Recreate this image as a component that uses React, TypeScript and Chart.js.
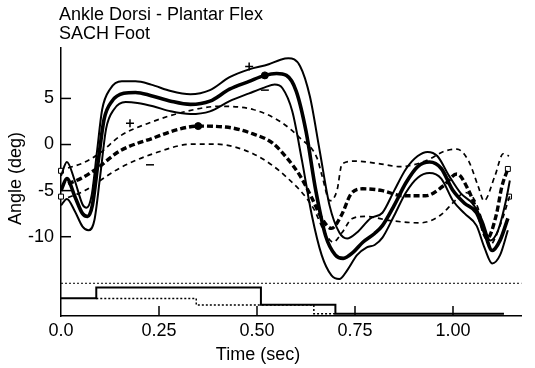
import React, { useEffect, useRef } from "react";
import { Chart, registerables } from "chart.js";

Chart.register(...registerables);

const TITLE = ["Ankle Dorsi - Plantar Flex", "SACH Foot"];
const X_LABEL = "Time (sec)";
const Y_LABEL = "Angle (deg)";
const X_TICKS = [0, 0.25, 0.5, 0.75, 1.0];
const Y_TICKS = [5, 0, -5, -10];

// Solid (reference) curves: [time, angle]
const solidMean: [number, number][] = [
  [0.0, -5.0], [0.015, -3.7], [0.035, -5.6], [0.055, -7.5], [0.068, -7.8], [0.08, -6.6],
  [0.095, -1.8], [0.11, 2.75], [0.13, 4.7], [0.16, 5.55], [0.19, 5.65], [0.23, 5.3],
  [0.28, 4.7], [0.33, 4.35], [0.38, 4.7], [0.43, 6.0], [0.48, 6.85], [0.52, 7.5],
  [0.55, 7.7], [0.575, 7.5], [0.6, 5.8], [0.625, 1.45], [0.65, -5.0], [0.675, -9.9],
  [0.7, -12.0], [0.72, -12.35], [0.745, -11.7], [0.77, -10.6], [0.8, -9.65], [0.82, -8.8],
  [0.85, -6.6], [0.88, -4.15], [0.91, -2.4], [0.94, -1.9], [0.97, -2.6], [1.0, -5.0],
  [1.03, -6.4], [1.06, -7.4], [1.08, -9.5], [1.1, -11.5], [1.12, -10.4], [1.14, -8.0],
];
const solidUpper: [number, number][] = [
  [0.0, -3.4], [0.015, -1.9], [0.035, -3.9], [0.055, -6.5], [0.065, -6.85], [0.078, -5.55],
  [0.092, -0.7], [0.105, 3.8], [0.125, 6.0], [0.155, 6.85], [0.19, 6.85], [0.23, 6.5],
  [0.28, 5.8], [0.33, 5.45], [0.38, 5.9], [0.43, 7.3], [0.48, 8.15], [0.53, 8.7],
  [0.56, 9.2], [0.58, 9.35], [0.61, 8.5], [0.635, 5.2], [0.66, -0.7], [0.685, -6.6],
  [0.71, -9.55], [0.73, -10.2], [0.755, -9.55], [0.79, -8.0], [0.82, -7.4], [0.85, -5.0],
  [0.88, -2.65], [0.91, -1.25], [0.935, -0.8], [0.96, -1.25], [0.99, -3.4], [1.02, -5.3],
  [1.05, -6.4], [1.075, -8.25], [1.095, -10.4], [1.115, -9.3], [1.135, -6.1], [1.145, -3.9],
];
const solidLower: [number, number][] = [
  [0.0, -6.6], [0.015, -5.9], [0.035, -7.2], [0.055, -8.9], [0.07, -9.3], [0.085, -8.25],
  [0.1, -3.4], [0.115, 1.7], [0.135, 3.8], [0.165, 4.6], [0.195, 4.5], [0.235, 4.15],
  [0.28, 3.6], [0.33, 3.3], [0.38, 3.6], [0.43, 4.7], [0.48, 5.55], [0.52, 6.2],
  [0.545, 6.5], [0.565, 6.1], [0.59, 3.6], [0.615, -1.8], [0.64, -7.7], [0.665, -12.0],
  [0.69, -14.2], [0.71, -14.6], [0.73, -13.65], [0.755, -12.0], [0.78, -11.15], [0.8, -10.9],
  [0.82, -10.1], [0.85, -7.7], [0.88, -5.2], [0.91, -3.6], [0.94, -3.1], [0.97, -3.7],
  [1.0, -6.1], [1.03, -7.5], [1.06, -8.8], [1.08, -11.15], [1.1, -12.9], [1.12, -12.0], [1.14, -9.3],
];

// Dashed (SACH foot) curves
const dashMean: [number, number][] = [
  [0.018, -4.25], [0.05, -3.7], [0.09, -2.65], [0.15, -0.7], [0.235, 0.7], [0.3, 1.65],
  [0.35, 2.0], [0.42, 1.9], [0.49, 1.15], [0.54, 0.15], [0.576, -1.45], [0.61, -3.4],
  [0.64, -5.8], [0.665, -8.0], [0.69, -9.1], [0.715, -7.7], [0.74, -5.35], [0.77, -4.8],
  [0.82, -5.0], [0.87, -5.55], [0.93, -5.55], [0.975, -4.5], [1.01, -3.2], [1.04, -5.0],
  [1.065, -7.7], [1.087, -10.2], [1.11, -7.7], [1.125, -4.5], [1.14, -2.65],
];
const dashUpper: [number, number][] = [
  [0.018, -2.55], [0.056, -2.0], [0.1, -0.9], [0.15, 0.9], [0.235, 2.5], [0.32, 3.6],
  [0.405, 4.15], [0.49, 3.8], [0.559, 2.5], [0.61, 0.7], [0.653, -1.45], [0.666, -3.4],
  [0.686, -6.1], [0.704, -5.0], [0.717, -2.1], [0.75, -1.8], [0.814, -2.1], [0.865, -2.4],
  [0.929, -1.8], [0.98, -0.7], [1.01, -0.5], [1.04, -1.8], [1.064, -4.5], [1.079, -6.1],
  [1.107, -3.4], [1.128, -1.0], [1.143, -1.25],
];
const dashLower: [number, number][] = [
  [0.018, -5.75], [0.061, -5.0], [0.1, -3.9], [0.15, -2.55], [0.235, -1.0], [0.337, 0.05],
  [0.388, 0.05], [0.49, -1.0], [0.577, -3.6], [0.643, -6.85], [0.673, -9.55], [0.694, -10.6],
  [0.717, -9.55], [0.742, -8.05], [0.776, -7.8], [0.84, -8.25], [0.916, -8.5], [0.967, -7.7],
  [1.005, -6.1], [1.03, -5.2], [1.056, -6.1], [1.082, -9.3], [1.094, -10.9], [1.12, -8.8], [1.145, -5.55],
];

// Markers
const plusMarks: [number, number][] = [[0.48, 8.45], [0.176, 2.3]];
const minusMarks: [number, number][] = [[0.52, 5.9], [0.227, -2.2]];
const meanDots: [number, number][] = [[0.52, 7.5], [0.35, 2.0]];
const squareMarks: [number, number][] = [[0.0, -2.85], [0.0, -5.65], [1.14, -2.65], [1.143, -5.65]];

// Footswitch / stance bars
const footSolid: [number, number][] = [[0.0, -16.67], [0.09, -15.5], [0.51, -17.37], [0.7, -18.35], [1.13, -18.35]];
const footDotted: [number, number][] = [[0.09, -16.7], [0.345, -17.4], [0.645, -18.35], [0.7, -18.35]];
const baseline: [number, number][] = [[0.0, -15.05], [1.175, -15.05]];

const X_MIN = 0;
const X_MAX = 1.175;
const Y_MIN = -18.6;
const Y_MAX = 10.47;

const pts = (a: [number, number][]) => a.map(([x, y]) => ({ x, y }));
const FONT = '"Liberation Sans", Arial, Helvetica, sans-serif';

const annotate = {
  id: "annotate",
  afterDraw(chart: any) {
    const { ctx } = chart;
    const x = chart.scales.x;
    const y = chart.scales.y;
    ctx.save();
    ctx.strokeStyle = "#000";
    ctx.lineWidth = 1.5;
    Y_TICKS.forEach((v) => {
      const py = y.getPixelForValue(v);
      ctx.beginPath();
      ctx.moveTo(x.left, py);
      ctx.lineTo(x.left + 10, py);
      ctx.stroke();
    });
    X_TICKS.slice(1).forEach((v) => {
      const px = x.getPixelForValue(v);
      ctx.beginPath();
      ctx.moveTo(px, y.bottom);
      ctx.lineTo(px, y.bottom - 10);
      ctx.stroke();
    });
    ctx.fillStyle = "#000";
    ctx.font = `18px ${FONT}`;
    ctx.textAlign = "left";
    ctx.textBaseline = "alphabetic";
    ctx.fillText(TITLE[0], 59, 19.5);
    ctx.fillText(TITLE[1], 59, 38.5);
    ctx.textAlign = "center";
    ctx.fillText(X_LABEL, 258, 360);
    ctx.translate(21, 178.5);
    ctx.rotate(-Math.PI / 2);
    ctx.fillText(Y_LABEL, 0, 0);
    ctx.restore();
  },
};

export default function App() {
  const ref = useRef<HTMLCanvasElement | null>(null);
  useEffect(() => {
    if (!ref.current) return;
    const curve = (data: [number, number][], width: number, dash: number[]) => ({
      data: pts(data),
      borderColor: "#000",
      borderWidth: width,
      borderDash: dash,
      pointRadius: 0,
      fill: false,
      tension: 0.4,
      cubicInterpolationMode: "monotone" as const,
    });
    const marks = (data: [number, number][], style: string, r: number, bg: string, bw: number) => ({
      data: pts(data),
      showLine: false,
      pointStyle: style,
      pointRadius: r,
      backgroundColor: bg,
      borderColor: "#000",
      borderWidth: bw,
      clip: false as any,
    });
    const chart = new Chart(ref.current, {
      type: "line",
      data: {
        datasets: [
          { data: pts(baseline), borderColor: "#000", borderWidth: 1, borderDash: [2, 2], pointRadius: 0 },
          { data: pts(footDotted), borderColor: "#000", borderWidth: 1.5, borderDash: [2, 2], pointRadius: 0, stepped: "before" },
          { data: pts(footSolid), borderColor: "#000", borderWidth: 2, pointRadius: 0, stepped: "before" },
          curve(dashUpper, 1.7, [5, 4]),
          curve(dashLower, 1.7, [5, 4]),
          curve(dashMean, 3.4, [6, 3]),
          curve(solidUpper, 2, []),
          curve(solidLower, 2, []),
          curve(solidMean, 3.6, []),
          marks(plusMarks, "cross", 4, "#000", 1.5),
          marks(minusMarks, "line", 4, "#000", 1.5),
          marks(meanDots, "circle", 3.5, "#000", 1),
          marks(squareMarks, "rect", 3.5, "#fff", 1),
        ] as any,
      },
      options: {
        animation: false,
        responsive: false,
        events: [],
        layout: { padding: { top: 48, right: 535 - 521.6, left: 0, bottom: 0 } },
        plugins: { legend: { display: false }, title: { display: false }, tooltip: { enabled: false } },
        scales: {
          x: {
            type: "linear",
            min: X_MIN,
            max: X_MAX,
            afterBuildTicks: (s: any) => {
              s.ticks = X_TICKS.map((value) => ({ value }));
            },
            afterFit: (s: any) => {
              s.height = 52;
            },
            ticks: {
              color: "#000",
              font: { family: FONT, size: 18 },
              padding: 4,
              maxRotation: 0,
              autoSkip: false,
              callback: (v: any) => (Number(v) === 0 ? "0.0" : Number(v).toFixed(2)),
            },
            grid: { display: false, drawTicks: false },
            border: { display: true, color: "#000", width: 1.5 },
          },
          y: {
            type: "linear",
            min: Y_MIN,
            max: Y_MAX,
            afterBuildTicks: (s: any) => {
              s.ticks = Y_TICKS.map((value) => ({ value }));
            },
            afterFit: (s: any) => {
              s.width = 61;
            },
            ticks: {
              color: "#000",
              font: { family: FONT, size: 18 },
              padding: 7,
              autoSkip: false,
              callback: (v: any) => String(v),
            },
            grid: { display: false, drawTicks: false },
            border: { display: true, color: "#000", width: 1.5 },
          },
        },
      } as any,
      plugins: [annotate],
    });
    return () => chart.destroy();
  }, []);
  return (
    <div style={{ position: "absolute", left: 0, top: 0, width: 535, height: 368, background: "#fff" }}>
      <canvas ref={ref} width={535} height={368} style={{ display: "block" }} />
    </div>
  );
}
